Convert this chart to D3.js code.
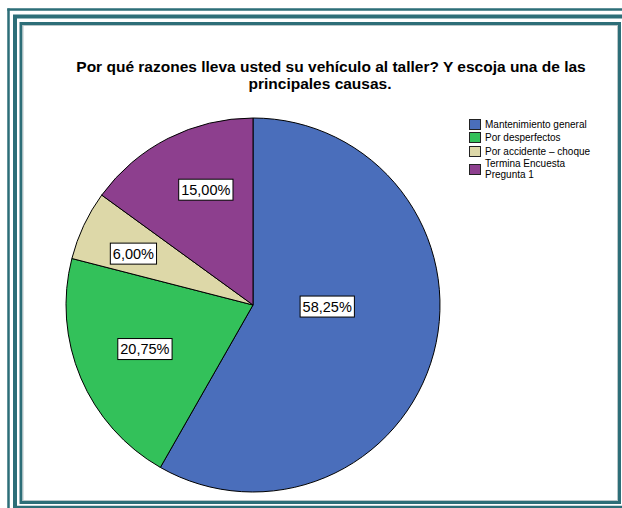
<!DOCTYPE html>
<html>
<head>
<meta charset="utf-8">
<script src="https://d3js.org/d3.v7.min.js"></script>
<style>
  body { margin: 0; background: #fff; }
  svg { display: block; font-family: "Liberation Sans", Arial, sans-serif; }
</style>
</head>
<body>
<script>
'use strict';

// chart data
const categories = ["Mantenimiento general", "Por desperfectos", "Por accidente \u2013 choque", "Termina Encuesta Pregunta 1"];
const legendLines = [["Mantenimiento general"], ["Por desperfectos"], ["Por accidente \u2013 choque"], ["Termina Encuesta", "Pregunta 1"]];
const percents = [58.25, 20.75, 6.00, 15.00];
const colors = ["#4a6ebb", "#33c15a", "#ddd8a8", "#8d3f8e"];
const titleLines = ["Por qué razones lleva usted su vehículo al taller? Y escoja una de las", "principales causas."];

const width = 622, height = 508;
const frameColor = "#2d6e78";

const svg = d3.select("body").append("svg")
  .attr("width", width)
  .attr("height", height);

// decorative page frame
function frameLine(x1, y1, x2, y2, w, c) {
  svg.append("line")
    .attr("x1", x1).attr("y1", y1).attr("x2", x2).attr("y2", y2)
    .attr("stroke", c || frameColor).attr("stroke-width", w);
}
// outer double lines run off the page
frameLine(8.5, 8.5, 8.5, height, 2.5);
frameLine(7.3, 9.5, width, 9.5, 2.5);
frameLine(15, 16.5, 15, height, 4);
frameLine(13, 16.5, width, 16.5, 4);
frameLine(17, 507, width, 507, 2.5);
// inner box
svg.append("rect")
  .attr("x", 21).attr("y", 23.5).attr("width", 598.5).attr("height", 479)
  .attr("fill", "none").attr("stroke", frameColor).attr("stroke-width", 3);
svg.append("rect")
  .attr("x", 23).attr("y", 25.5).attr("width", 594.5).attr("height", 475)
  .attr("fill", "none").attr("stroke", "#b9c6c8").attr("stroke-width", 1);

// title
svg.append("g").selectAll("text")
  .data(titleLines)
  .join("text")
  .attr("x", (d, i) => i === 0 ? 331 : 320)
  .attr("y", (d, i) => 72 + i * 16.5)
  .attr("text-anchor", "middle")
  .style("font-size", "15.5px")
  .style("font-weight", "bold")
  .text(d => d);

// pie
const cx = 253, cy = 305, radius = 187;
const pie = d3.pie().sort(null).value(d => d);
const arcs = pie(percents);
const arc = d3.arc().innerRadius(0).outerRadius(radius);

const g = svg.append("g").attr("transform", `translate(${cx},${cy})`);
g.selectAll("path")
  .data(arcs)
  .join("path")
  .attr("d", arc)
  .attr("fill", (d, i) => colors[i])
  .attr("stroke", "#000")
  .attr("stroke-width", 1);

// labels placed near the area centroid of each slice, nudged like the original
const labelNudge = [[8, -16], [3, -3], [-3, 3.5], [9.5, -4]];
const fmt = v => v.toFixed(2).replace(".", ",") + "%";
const labels = g.selectAll("g.lbl")
  .data(arcs)
  .join("g")
  .attr("class", "lbl")
  .attr("transform", (d, i) => {
    const theta = d.endAngle - d.startAngle;
    const half = theta / 2;
    const dist = (2 / 3) * radius * Math.sin(half) / half * 1.04;
    const mid = (d.startAngle + d.endAngle) / 2;
    return `translate(${dist * Math.sin(mid) + labelNudge[i][0]},${-dist * Math.cos(mid) + labelNudge[i][1]})`;
  });
labels.each(function (d) {
  const lg = d3.select(this);
  const t = lg.append("text")
    .attr("text-anchor", "middle")
    .attr("dy", "0.36em")
    .style("font-size", "14.5px")
    .text(fmt(d.data));
  const bb = t.node().getBBox();
  lg.insert("rect", "text")
    .attr("x", bb.x - 2.5).attr("y", -10.5)
    .attr("width", bb.width + 5).attr("height", 21)
    .attr("fill", "#fff").attr("stroke", "#000").attr("stroke-width", 1);
});

// legend
const legend = svg.append("g").attr("transform", "translate(469,119)");
const rowY = [0, 13, 27, 45];
const items = legend.selectAll("g")
  .data(legendLines)
  .join("g")
  .attr("transform", (d, i) => `translate(0,${rowY[i]})`);
items.append("rect")
  .attr("x", 0.5).attr("y", 0.5)
  .attr("width", 11).attr("height", 10)
  .attr("fill", (d, i) => colors[i])
  .attr("stroke", "#222").attr("stroke-width", 1);
items.each(function (lines) {
  const it = d3.select(this);
  const off = lines.length > 1 ? -6 : 0;
  lines.forEach((ln, j) => {
    it.append("text")
      .attr("x", 16)
      .attr("y", 9 + off + j * 11)
      .style("font-size", "10px")
      .text(ln);
  });
});
</script>
</body>
</html>
